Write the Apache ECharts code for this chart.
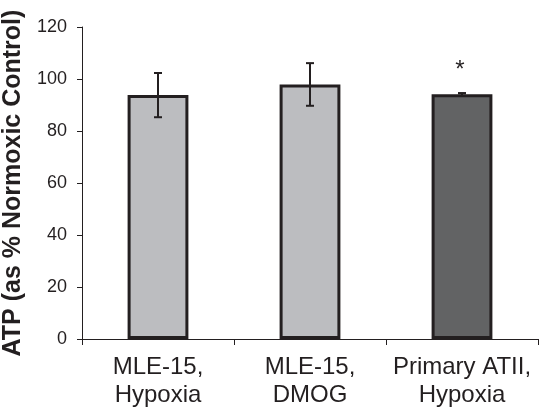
<!DOCTYPE html>
<html><head><meta charset="utf-8">
<script src="https://cdn.jsdelivr.net/npm/echarts@6/dist/echarts.min.js"></script>
<style>html,body{margin:0;padding:0;background:#fff}#c{width:539px;height:414px}</style>
</head><body><div id="c"></div>
<script>
const categories = ['MLE-15,\nHypoxia', 'MLE-15,\nDMOG', 'Primary ATII,\nHypoxia'];
const atpValues = [93.8, 97.9, 94.1];
const atpErrors = [8.5, 8.2, 0.5];
const barColors = ['#bcbdc0', '#bcbdc0', '#626364'];
const significance = ['', '', '*'];
const yTicks = [0, 20, 40, 60, 80, 100, 120];

const chart = echarts.init(document.getElementById('c'));
const font = '"Liberation Sans", Arial, sans-serif';
chart.setOption({
  animation: false,
  grid: { left: 82, right: 1, top: 27, bottom: 75, containLabel: false, outerBoundsMode: 'none' },
  xAxis: {
    type: 'category', data: categories,
    axisLine: { lineStyle: { color: '#231f20', width: 1 } },
    axisTick: { show: true, alignWithLabel: false, length: 6, lineStyle: { color: '#231f20' } },
    axisLabel: { color: '#231f20', fontSize: 24, fontFamily: font, lineHeight: 28, margin: 14, interval: 0, hideOverlap: false }
  },
  yAxis: {
    type: 'value', min: 0, max: 120, interval: 20,
    name: 'ATP (as % Normoxic Control)', nameLocation: 'middle', nameGap: 56,
    nameTextStyle: { color: '#231f20', fontSize: 25, fontWeight: 'bold', fontFamily: font },
    axisLine: { show: true, lineStyle: { color: '#231f20', width: 1 } },
    axisTick: { show: true, length: 5, lineStyle: { color: '#231f20' } },
    splitLine: { show: false },
    axisLabel: { color: '#231f20', fontSize: 18, fontFamily: font, margin: 15,
      formatter: v => yTicks.includes(v) ? String(v) : '' }
  },
  series: [
    {
      type: 'bar', barWidth: '40%',
      data: atpValues.map((v, i) => ({ value: v, itemStyle: { color: barColors[i] } })),
      itemStyle: { borderColor: '#231f20', borderWidth: 3 },
      z: 2
    },
    {
      type: 'custom', z: 3,
      data: atpValues.map((v, i) => [i, v, atpErrors[i]]),
      renderItem: function (params, api) {
        const i = api.value(0), v = api.value(1), e = api.value(2);
        const top = api.coord([i, v + e]);
        const bot = api.coord([i, v - e]);
        const barTop = api.coord([i, v]);
        const cx = top[0];
        const hw = 4;
        const style = { stroke: '#231f20', lineWidth: 2 };
        const children = [
          { type: 'line', shape: { x1: cx, y1: top[1], x2: cx, y2: bot[1] }, style },
          { type: 'line', shape: { x1: cx - hw, y1: top[1], x2: cx + hw, y2: top[1] }, style },
          { type: 'line', shape: { x1: cx - hw, y1: bot[1], x2: cx + hw, y2: bot[1] }, style }
        ];
        const sig = significance[params.dataIndex];
        if (sig) {
          children.push({ type: 'text', x: cx - 2, y: barTop[1] - 24,
            style: { text: sig, fill: '#231f20', font: '24px ' + font, align: 'center', verticalAlign: 'middle' } });
        }
        return { type: 'group', children };
      }
    }
  ]
});
</script></body></html>
